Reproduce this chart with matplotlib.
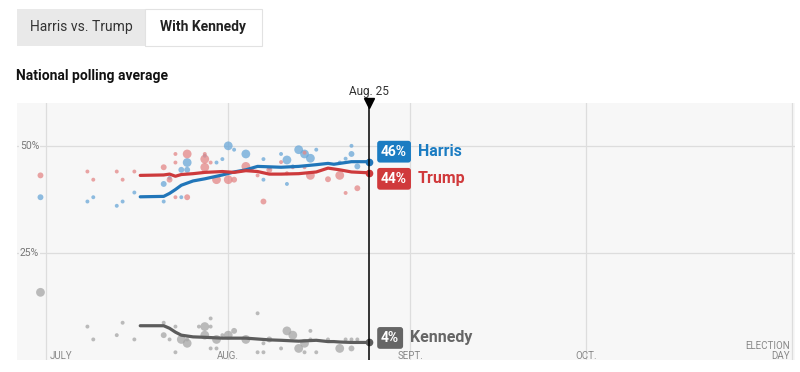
import numpy as np
import pandas as pd
import matplotlib
matplotlib.use("Agg")
import matplotlib.pyplot as plt
from matplotlib.patches import Rectangle

plt.rcParams['font.family'] = ['Liberation Sans Narrow', 'Roboto', 'DejaVu Sans']

# poll dots: date, value, weight (1 small .. 3 large)
harris_dates = ["06-30", "07-08", "07-09", "07-13", "07-14", "07-16", "07-21", "07-21", "07-22",
                "07-24", "07-25", "07-25", "07-24", "07-28", "07-30", "07-31", "08-01", "08-02",
                "08-04", "08-07", "08-07", "08-08", "08-10", "08-11", "08-11", "08-12", "08-13",
                "08-14", "08-15", "08-16", "08-20", "08-21", "08-22", "08-22", "08-23"]
harris_polls = [38.0, 37.0, 38.0, 36.0, 37.0, 39.1, 41.1, 37.0, 42.5,
                44.4, 46.1, 44.4, 38.0, 47.7, 46.1, 46.9, 50.0, 49.1,
                48.1, 46.9, 42.1, 44.8, 48.1, 46.7, 41.1, 45.2, 49.1,
                48.1, 47.1, 49.1, 46.1, 47.0, 50.0, 48.1, 45.2]
harris_w = [2, 1, 1, 1, 1, 1, 2, 1, 1,
            2, 3, 2, 1, 1, 1, 1, 3, 1,
            3, 1, 1, 1, 1, 3, 1, 1, 3,
            3, 3, 1, 1, 1, 1, 2, 2]

trump_dates = ["06-30", "07-08", "07-09", "07-13", "07-14", "07-16", "07-21", "07-23", "07-23",
               "07-25", "07-23", "07-25", "07-22", "07-28", "07-28", "07-28", "07-29", "07-30",
               "08-01", "08-02", "08-04", "08-06", "08-07", "08-08", "08-10", "08-11", "08-12",
               "08-14", "08-14", "08-15", "08-18", "08-20", "08-21", "08-23", "08-05"]
trump_polls = [43.1, 44.0, 42.1, 44.0, 42.1, 44.0, 45.0, 48.1, 46.1,
               48.1, 38.0, 38.0, 42.1, 48.1, 46.9, 45.0, 46.1, 42.1,
               42.1, 42.1, 45.2, 43.1, 37.0, 44.4, 46.2, 43.6, 45.0,
               48.4, 45.0, 43.1, 42.2, 43.1, 39.0, 40.1, 44.6]
trump_w = [2, 1, 1, 1, 1, 1, 2, 1, 1,
           3, 1, 2, 2, 1, 3, 3, 1, 3,
           3, 2, 3, 1, 2, 2, 1, 1, 1,
           1, 1, 3, 2, 3, 1, 2, 1]

kennedy_dates = ["06-30", "07-08", "07-09", "07-13", "07-14", "07-16", "07-21", "07-21", "07-22",
                 "07-23", "07-23", "07-24", "07-25", "07-25", "07-27", "07-28", "07-28", "07-29",
                 "07-29", "07-29", "07-30", "07-30", "07-31", "08-01", "08-02", "08-04", "08-06",
                 "08-06", "08-07", "08-07", "08-08", "08-10", "08-11", "08-12", "08-13", "08-14",
                 "08-14", "08-15", "08-15", "08-16", "08-18", "08-20", "08-21", "08-22", "08-22",
                 "08-23"]
kennedy_polls = [15.8, 7.8, 4.8, 5.8, 8.7, 4.8, 8.7, 5.8, 4.8,
                 7.8, 1.8, 4.8, 3.9, 4.8, 7.8, 7.8, 5.8, 9.7,
                 7.8, 2.7, 2.7, 4.8, 5.8, 5.8, 6.8, 4.8, 10.9,
                 1.8, 3.9, 1.8, 4.8, 2.7, 6.8, 5.8, 2.7, 3.9,
                 1.8, 6.8, 4.8, 1.8, 4.8, 2.7, 4.8, 2.7, 4.8,
                 4.8]
kennedy_w = [3, 1, 1, 1, 1, 1, 1, 2, 1,
             1, 1, 3, 3, 1, 1, 3, 3, 1,
             1, 1, 1, 3, 1, 3, 2, 3, 1,
             1, 1, 1, 2, 1, 3, 3, 3, 3,
             1, 1, 1, 1, 1, 3, 1, 2, 1,
             1]

# polling averages
avg_dates = ["07-17", "07-21", "07-22", "07-23", "07-24", "07-26", "07-28", "07-31", "08-02", "08-04",
             "08-06", "08-08", "08-10", "08-13", "08-16", "08-18", "08-19", "08-20", "08-22", "08-25"]
harris_avg = [38.1, 38.2, 38.9, 39.8, 40.8, 41.8, 42.3, 43.2, 43.9, 44.4,
              45.2, 45.1, 45.0, 45.2, 45.6, 45.9, 45.7, 45.9, 46.3, 46.3]
trump_avg = [43.1, 43.2, 43.4, 42.9, 43.3, 43.5, 43.8, 44.0, 43.8, 44.2,
             44.0, 43.4, 43.4, 43.5, 43.9, 44.8, 44.6, 44.4, 43.9, 43.7]
kennedy_avg = [8.0, 8.0, 7.4, 6.5, 5.8, 5.4, 5.3, 5.1, 5.1, 5.1,
               4.9, 4.7, 4.6, 4.4, 4.6, 4.3, 4.3, 4.2, 4.1, 4.1]

month_ticks = ["07-01", "08-01", "09-01", "10-01", "11-05"]
month_labels = ["JULY", "AUG.", "SEPT.", "OCT.", "ELECTION\nDAY"]
y_ticks = [25, 50]


def to_dt(days):
    return pd.to_datetime(["2024-" + d for d in days])


sizes = {1: 8, 2: 18, 3: 40}

W, H = 800, 372
fig = plt.figure(figsize=(W / 100, H / 100), dpi=100)


def fx(px):
    return px / W


def fy(py):
    return 1 - py / H


# toggle buttons
fig.patches.append(Rectangle((fx(17), fy(46)), fx(128), 37 / H, transform=fig.transFigure,
                             facecolor="#e9e9e9", edgecolor="none"))
fig.patches.append(Rectangle((fx(145), fy(46)), fx(117), 37 / H, transform=fig.transFigure,
                             facecolor="white", edgecolor="#e2e2e2", lw=0.8))
fig.text(fx(81), fy(27), "Harris vs. Trump", ha="center", va="center", fontsize=10, color="#333333")
fig.text(fx(203), fy(27), "With Kennedy", ha="center", va="center", fontsize=10,
         fontweight="bold", color="#222222")
fig.text(fx(16), fy(76), "National polling average", ha="left", va="center", fontsize=10,
         fontweight="bold", color="#121212")

ax = fig.add_axes([fx(17), fy(360), 778 / W, 257 / H])
ax.set_facecolor("#f7f7f7")
for s in ax.spines.values():
    s.set_visible(False)
ax.set_xticks([])
ax.set_yticks([])
ax.set_xlim(pd.Timestamp("2024-06-26"), pd.Timestamp("2024-11-05 14:00"))
ax.set_ylim(0, 60)

xt = to_dt(month_ticks)
for d in xt:
    ax.axvline(d, color="#dddddd", lw=0.9, zorder=0)
for v in y_ticks:
    ax.axhline(v, color="#dddddd", lw=0.9, zorder=0)
    ax.text(pd.Timestamp("2024-06-26 12:00"), v, f"{v}%", ha="left", va="center", fontsize=7.5,
            color="#777777", zorder=1, bbox=dict(facecolor="#f7f7f7", edgecolor="none", pad=0.5))

for i, (d, lab) in enumerate(zip(xt, month_labels)):
    if i == 0:
        ax.text(d + pd.Timedelta(hours=12), 0.35, lab, ha="left", va="baseline", fontsize=7, color="#888888")
    elif i == len(xt) - 1:
        ax.text(d - pd.Timedelta(hours=6), 0.35, lab, ha="right", va="baseline", fontsize=7,
                color="#888888", multialignment="right", linespacing=1.0)
    else:
        ax.text(d, 0.35, lab, ha="center", va="baseline", fontsize=7, color="#888888")

series = [
    (harris_dates, harris_polls, harris_w, harris_avg, "#6aa7d8", "#2176b9", "#1b7cc2", "Harris"),
    (trump_dates, trump_polls, trump_w, trump_avg, "#e48787", "#cd3a3c", "#d0393b", "Trump"),
    (kennedy_dates, kennedy_polls, kennedy_w, kennedy_avg, "#a6a6a6", "#5c5c5c", "#666666", "Kennedy"),
]

for dates, polls, w, avg, dot_c, line_c, box_c, name in series:
    ax.scatter(to_dt(dates), polls, s=[sizes[k] for k in w], color=dot_c, alpha=0.75,
               edgecolors="none", zorder=2)
    ad = to_dt(avg_dates)
    ax.plot(ad, avg, color=line_c, lw=2.3, solid_capstyle="round", zorder=3)
    ax.plot(ad[-1], avg[-1], "o", color=line_c, ms=4.5, zorder=4, clip_on=False)

end = to_dt(avg_dates)[-1]
ax.axvline(end, color="black", lw=1.1, zorder=5)
ax.plot(end, 60, marker="v", color="black", ms=7, clip_on=False, zorder=6)
ax.annotate("Aug. 25", (end, 60), xytext=(0, 12), textcoords="offset pixels", ha="center",
            va="center", fontsize=8.5, color="#333333", annotation_clip=False)

# end labels
label_offsets = {"Harris": (10, 49), "Trump": (-6, 49), "Kennedy": (4.5, 41)}
for dates, polls, w, avg, dot_c, line_c, box_c, name in series:
    dy, nx = label_offsets[name]
    ax.annotate(f"{round(avg[-1])}%", (end, avg[-1]), xytext=(12, dy), textcoords="offset pixels",
                ha="left", va="center", fontsize=10, fontweight="bold", color="white",
                bbox=dict(boxstyle="round,pad=0.28,rounding_size=0.2", facecolor=box_c, edgecolor="none"),
                annotation_clip=False, zorder=7)
    ax.annotate(name, (end, avg[-1]), xytext=(nx, dy), textcoords="offset pixels", ha="left",
                va="center", fontsize=11.5, fontweight="bold", color=box_c, annotation_clip=False, zorder=7)

fig.savefig("out.png", dpi=100)
